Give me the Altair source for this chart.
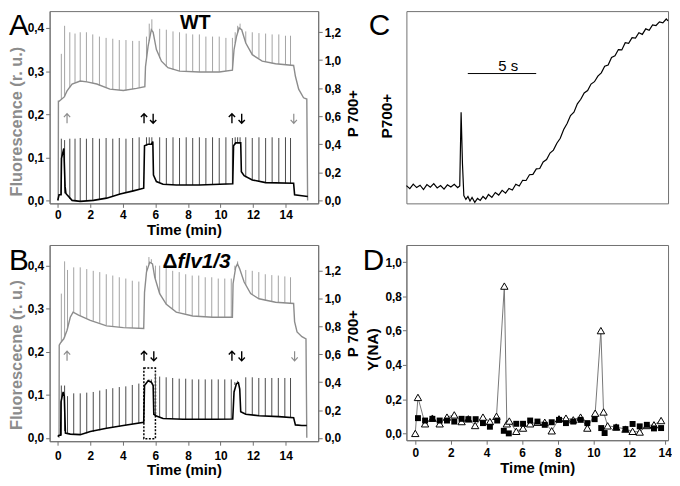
import altair as alt
import pandas as pd

FONT = "Liberation Sans"
GRAY = "#8c8c8c"
SPIKE_GRAY = "#a3a3a3"
SPIKE_BLACK = "#4a4a4a"
FRAME = "#707070"
COMMA = "replace(format(datum.value, '.1f'), '.', ',')"
UP_PATH = "M-0.65,-0.3 L0,-1 L0.65,-0.3 M0,-1 L0,1"
DOWN_PATH = "M-0.65,0.3 L0,1 L0.65,0.3 M0,1 L0,-1"

# ---------------- Panel A (WT) ----------------
A_gray_t = [0.03, 0.04, 0.08, 0.4, 0.57, 0.88, 1.38, 1.79, 2.4, 3.2, 4.03, 4.84, 5.35, 5.39, 5.55,
            5.75, 5.86, 6.06, 6.37, 6.77, 7.48, 8.7, 9.92, 10.73, 10.83, 10.98, 11.14, 11.3, 11.55,
            11.95, 12.56, 13.38, 14.49, 14.6, 14.8, 15.1, 15.3, 15.35]
A_gray_v = [0.0, 0.23, 0.23, 0.24, 0.254, 0.27, 0.277, 0.275, 0.27, 0.258, 0.255, 0.26, 0.264, 0.31, 0.358,
            0.396, 0.39, 0.35, 0.323, 0.308, 0.30, 0.298, 0.298, 0.302, 0.35, 0.38, 0.40, 0.396, 0.365,
            0.338, 0.323, 0.317, 0.313, 0.288, 0.258, 0.238, 0.235, 0.0]
A_black_t = [0.0, 0.08, 0.2, 0.23, 0.37, 0.45, 0.5, 0.57, 0.88, 1.38, 2.19, 3.0, 3.83, 4.64, 5.28,
             5.33, 5.55, 5.75, 5.84, 5.88, 6.06, 6.47, 7.28, 8.7, 10.75, 10.8, 10.93, 11.24, 11.28,
             11.45, 11.95, 12.77, 14.49, 14.55, 15.0, 15.36]
A_black_v = [0.0, 0.04, 0.04, 0.30, 0.37, 0.1, 0.05, 0.04, 0.0, -0.007, 0.0, 0.016, 0.045, 0.068, 0.087,
             0.39, 0.40, 0.40, 0.42, 0.18, 0.134, 0.115, 0.11, 0.11, 0.118, 0.39, 0.41, 0.41, 0.205,
             0.176, 0.146, 0.127, 0.122, 0.04, 0.033, 0.028]
A_spk_t = [0.22, 0.42, 0.74, 1.06, 1.38, 1.76, 2.15, 2.56, 2.97, 3.38,
           3.78, 4.19, 4.6, 5.0, 5.45, 5.62, 5.78, 6.26, 6.67, 7.08,
           7.48, 7.89, 8.29, 8.7, 9.1, 9.51, 9.92, 10.33, 10.73, 10.9,
           11.05, 11.2, 11.55, 11.95, 12.36, 12.77, 13.17, 13.58, 13.99, 14.3]
A_gray_base = [0.235, 0.24, 0.262, 0.273, 0.277, 0.275, 0.272, 0.266, 0.261, 0.257,
               0.256, 0.255, 0.258, 0.262, 0.33, 0.37, 0.395, 0.33, 0.31, 0.303,
               0.30, 0.299, 0.298, 0.298, 0.298, 0.298, 0.298, 0.30, 0.302, 0.365,
               0.39, 0.398, 0.365, 0.338, 0.33, 0.321, 0.318, 0.316, 0.315, 0.314]
A_gray_top = [0.34, 0.405, 0.39, 0.387, 0.39, 0.39, 0.385, 0.38, 0.377, 0.375,
              0.372, 0.372, 0.37, 0.37, 0.38, 0.41, 0.42, 0.398, 0.396, 0.392,
              0.39, 0.387, 0.385, 0.385, 0.38, 0.38, 0.38, 0.377, 0.377, 0.39,
              0.405, 0.41, 0.392, 0.39, 0.388, 0.387, 0.385, 0.385, 0.382, 0.382]
A_black_base = [0.04, 0.05, 0.01, 0.0, -0.005, -0.003, 0.0, 0.008, 0.016, 0.03,
                0.043, 0.055, 0.067, 0.08, 0.39, 0.40, 0.40, 0.125, 0.112, 0.11,
                0.11, 0.11, 0.11, 0.11, 0.11, 0.112, 0.113, 0.115, 0.118, 0.40,
                0.41, 0.41, 0.165, 0.146, 0.135, 0.127, 0.125, 0.123, 0.122, 0.122]
A_black_top = [0.44, 0.43, 0.44, 0.44, 0.445, 0.44, 0.445, 0.44, 0.445, 0.44,
               0.445, 0.44, 0.445, 0.45, 0.45, 0.45, 0.45, 0.45, 0.445, 0.45,
               0.445, 0.45, 0.445, 0.45, 0.445, 0.45, 0.445, 0.45, 0.445, 0.45,
               0.45, 0.45, 0.45, 0.445, 0.45, 0.445, 0.45, 0.445, 0.45, 0.445]
A_arrow_gray_up_t = [0.57]
A_arrow_gray_down_t = [14.5]
A_arrow_black_up_t = [5.3, 10.7]
A_arrow_black_down_t = [5.86, 11.3]

# ---------------- Panel B (Δflv1/3) ----------------
B_gray_t = [0.08, 0.09, 0.16, 0.37, 0.57, 0.77, 0.94, 1.28, 2.0, 3.0, 4.03, 5.28, 5.33, 5.45, 5.65,
            5.82, 5.96, 6.26, 6.67, 7.28, 8.29, 9.51, 10.73, 10.77, 10.93, 11.04, 11.18, 11.45, 11.85,
            12.36, 13.38, 14.49, 14.55, 14.7, 15.0, 15.25, 15.3]
B_gray_v = [0.0, 0.215, 0.22, 0.23, 0.25, 0.28, 0.292, 0.285, 0.273, 0.26, 0.256, 0.254, 0.338, 0.385, 0.408,
            0.404, 0.373, 0.335, 0.31, 0.292, 0.283, 0.28, 0.28, 0.358, 0.396, 0.404, 0.392, 0.362, 0.335,
            0.323, 0.315, 0.312, 0.27, 0.246, 0.235, 0.23, 0.0]
B_black_t = [0.0, 0.08, 0.18, 0.2, 0.33, 0.4, 0.47, 0.77, 1.38, 2.0, 3.0, 4.03, 5.28, 5.33, 5.55,
             5.75, 5.86, 5.9, 6.06, 6.47, 7.7, 9.7, 10.75, 10.83, 10.98, 11.1, 11.18, 11.24, 11.55,
             12.36, 13.58, 14.49, 14.6, 15.0, 15.3]
B_black_v = [0.01, 0.02, 0.02, 0.26, 0.33, 0.3, 0.035, 0.028, 0.024, 0.047, 0.07, 0.09, 0.113, 0.376, 0.41,
             0.40, 0.376, 0.17, 0.158, 0.14, 0.134, 0.134, 0.136, 0.33, 0.39, 0.395, 0.35, 0.188, 0.17,
             0.16, 0.153, 0.146, 0.094, 0.09, 0.09]
B_spk_t = [0.22, 0.42, 0.6, 0.98, 1.38, 1.78, 2.18, 2.58, 2.98, 3.38,
           3.78, 4.18, 4.58, 4.98, 5.45, 5.6, 5.75, 6.0, 6.26, 6.66,
           7.06, 7.46, 7.86, 8.26, 8.66, 9.06, 9.46, 9.86, 10.26, 10.66,
           10.88, 11.05, 11.55, 11.95, 12.35, 12.75, 13.15, 13.55, 13.95, 14.3]
B_gray_base = [0.222, 0.232, 0.252, 0.29, 0.283, 0.277, 0.272, 0.267, 0.262, 0.259,
               0.257, 0.256, 0.255, 0.254, 0.385, 0.403, 0.406, 0.37, 0.335, 0.31,
               0.30, 0.293, 0.288, 0.284, 0.282, 0.281, 0.28, 0.28, 0.28, 0.28,
               0.39, 0.404, 0.355, 0.332, 0.323, 0.319, 0.316, 0.314, 0.313, 0.312]
B_gray_top = [0.335, 0.41, 0.39, 0.396, 0.396, 0.392, 0.388, 0.385, 0.38, 0.377,
              0.373, 0.37, 0.365, 0.363, 0.40, 0.42, 0.415, 0.40, 0.40, 0.396,
              0.388, 0.385, 0.38, 0.377, 0.377, 0.373, 0.373, 0.37, 0.37, 0.37,
              0.40, 0.41, 0.39, 0.388, 0.385, 0.38, 0.378, 0.377, 0.375, 0.373]
B_black_base = [0.02, 0.05, 0.03, 0.026, 0.024, 0.033, 0.045, 0.055, 0.068, 0.075,
                0.082, 0.09, 0.1, 0.108, 0.39, 0.41, 0.40, 0.16, 0.15, 0.14,
                0.136, 0.134, 0.134, 0.134, 0.134, 0.134, 0.134, 0.134, 0.135, 0.136,
                0.38, 0.395, 0.17, 0.165, 0.16, 0.157, 0.155, 0.153, 0.15, 0.147]
B_black_top = [0.376, 0.376, 0.30, 0.32, 0.32, 0.325, 0.33, 0.34, 0.35, 0.357,
               0.365, 0.37, 0.38, 0.39, 0.40, 0.42, 0.42, 0.46, 0.44, 0.435,
               0.43, 0.425, 0.425, 0.42, 0.42, 0.42, 0.42, 0.42, 0.42, 0.42,
               0.40, 0.41, 0.435, 0.435, 0.43, 0.43, 0.43, 0.43, 0.43, 0.43]
B_arrow_gray_up_t = [0.57]
B_arrow_gray_down_t = [14.55]
B_arrow_black_up_t = [5.3, 10.7]
B_arrow_black_down_t = [5.9, 11.3]
B_box_t = [5.29, 6.0]
B_box_v = [-0.002, 0.162]
ARROW_LEVEL = 0.19

# ---------------- Panel C (P700+ trace, seconds) ----------------
C_t = [0.0, 0.25, 0.5, 0.75, 1.0, 1.25, 1.5, 1.75, 2.0, 2.25, 2.5, 2.75, 3.0, 3.25, 3.5, 3.75, 3.9,
       4.0, 4.1, 4.2, 4.35, 4.5, 4.65, 4.8, 5.0, 5.2, 5.4, 5.6, 5.8, 6.0, 6.25, 6.5, 6.75, 7.0,
       7.25, 7.5, 7.75, 8.0, 8.25, 8.5, 8.75, 9.0, 9.25, 9.5, 9.75, 10.0, 10.25, 10.5, 10.75, 11.0,
       11.25, 11.5, 11.75, 12.0, 12.25, 12.5, 12.75, 13.0, 13.25, 13.5, 13.75, 14.0, 14.25, 14.5,
       14.75, 15.0, 15.25, 15.5, 15.75, 16.0, 16.25, 16.5, 16.75, 17.0, 17.25, 17.5, 17.75, 18.0,
       18.25, 18.5, 18.75, 19.0, 19.13]
C_v = [0.09, 0.075, 0.098, 0.08, 0.092, 0.07, 0.095, 0.082, 0.1, 0.078, 0.09, 0.072, 0.094, 0.083, 0.097, 0.08, 0.088,
       0.462, 0.2, 0.04, 0.02, 0.035, 0.012, 0.03, 0.005, 0.025, 0.015, 0.035, 0.022, 0.045, 0.03, 0.055, 0.042, 0.066,
       0.052, 0.076, 0.068, 0.097, 0.088, 0.117, 0.116, 0.145, 0.147, 0.175, 0.177, 0.21, 0.222, 0.255, 0.27, 0.305,
       0.33, 0.375, 0.405, 0.445, 0.462, 0.505, 0.528, 0.56, 0.572, 0.605, 0.617, 0.645, 0.662, 0.695,
       0.702, 0.74, 0.748, 0.78, 0.778, 0.815, 0.812, 0.84, 0.838, 0.865, 0.857, 0.885, 0.878, 0.905,
       0.902, 0.92, 0.915, 0.935, 0.925]
C_bar_t = [4.49, 9.49]

# ---------------- Panel D (Y(NA)) ----------------
D_sq_t = [0.15, 0.55, 0.96, 1.37, 1.78, 2.19, 2.6, 2.98, 3.39, 3.8, 4.19, 4.6, 4.97, 5.25, 5.67, 6.05, 6.45,
          6.86, 7.27, 7.66, 8.07, 8.46, 8.87, 9.28, 9.66, 10.07, 10.44, 10.63, 11.28, 11.8, 12.2, 12.6, 13.0,
          13.4, 13.8]
D_sq_v = [0.089, 0.075, 0.085, 0.075, 0.075, 0.069, 0.085, 0.083, 0.083, 0.06, 0.039, 0.075, 0.015, 0.0, 0.056,
          0.056, 0.075, 0.069, 0.05, 0.065, 0.079, 0.06, 0.069, 0.079, 0.06, 0.083, 0.031, 0.002, 0.035, 0.025,
          0.055, 0.041, 0.05, 0.029, 0.031]
D_tri_t = [0.0, 0.15, 0.55, 0.96, 1.37, 1.78, 2.19, 2.6, 2.98, 3.36, 3.8, 4.19, 4.56, 5.0, 5.14, 5.28, 5.67,
           6.05, 6.45, 6.86, 7.27, 7.66, 8.07, 8.46, 8.87, 9.28, 9.66, 10.1, 10.42, 10.57, 10.8, 11.28, 11.8,
           12.2, 12.6, 13.0, 13.4, 13.8]
D_tri_v = [0.0, 0.21, 0.056, 0.089, 0.056, 0.095, 0.108, 0.069, 0.085, 0.046, 0.095, 0.069, 0.10, 0.86, 0.056,
           0.072, 0.012, 0.031, 0.056, 0.065, 0.065, 0.015, 0.085, 0.089, 0.079, 0.095, 0.031, 0.118, 0.60,
           0.125, 0.044, 0.037, 0.025, 0.012, 0.008, 0.046, 0.05, 0.075]


def letter(ch, px, py):
    return alt.Chart(pd.DataFrame({"s": [ch]})).mark_text(
        font=FONT, fontSize=30, align="left", baseline="alphabetic", color="black"
    ).encode(text="s:N", x=alt.value(px), y=alt.value(py))


def label(txt, px, py, size, style="normal", align="center"):
    return alt.Chart(pd.DataFrame({"s": [txt]})).mark_text(
        font=FONT, fontSize=size, fontWeight="bold", fontStyle=style, align=align,
        baseline="alphabetic", color="black"
    ).encode(text="s:N", x=alt.value(px), y=alt.value(py))


def arrows(ts, path, color, X, width):
    return alt.Chart(pd.DataFrame({"t": ts})).mark_point(
        shape=path, filled=False, stroke=color, strokeWidth=width, size=95, opacity=1
    ).encode(x=X, y=alt.datum(ARROW_LEVEL))


def fluo_panel(let, let_y, names, gray_t, gray_v, black_t, black_v, spk_t, gb, gt, bb, bt,
               gup, gdown, bup, bdown, left_dom, right_dom, height, left_title, lty, rty,
               xlabpad, xty, box=None):
    X = alt.X("t:Q", scale=alt.Scale(domain=[-0.5, 16], nice=False, zero=False),
              axis=alt.Axis(values=list(range(0, 15, 2)), format="d", title="Time (min)",
                            labelPadding=xlabpad, titleY=xty, titleBaseline="alphabetic"))
    yl_axis = alt.Axis(values=[0, 0.1, 0.2, 0.3, 0.4], labelExpr=COMMA, title=left_title,
                       titleColor=GRAY, titleX=-33, titleY=lty, titleAngle=270,
                       titleAlign="center", titleBaseline="middle", titleFontSize=16.5)
    yl_scale = alt.Scale(domain=left_dom, nice=False, zero=False)
    yr_axis = alt.Axis(orient="right", values=[0, 0.2, 0.4, 0.6, 0.8, 1.0, 1.2], labelExpr=COMMA,
                       title="P 700+", titleX=35, titleY=rty, titleAngle=270,
                       titleAlign="center", titleBaseline="middle", titleFontSize=15)
    yr_scale = alt.Scale(domain=right_dom, nice=False, zero=False)

    left_layers = [
        alt.Chart(pd.DataFrame({"t": spk_t, "b": gb, "tp": gt})).mark_rule(
            color=SPIKE_GRAY, strokeWidth=1
        ).encode(x=X, y=alt.Y("b:Q", scale=yl_scale, axis=yl_axis), y2="tp:Q"),
        alt.Chart(pd.DataFrame({"t": gray_t, "v": gray_v})).mark_line(
            color=GRAY, strokeWidth=1.4
        ).encode(x=X, y=alt.Y("v:Q", scale=yl_scale, axis=yl_axis), order="t:Q"),
        arrows(gup, UP_PATH, GRAY, X, 1.2),
        arrows(gdown, DOWN_PATH, GRAY, X, 1.2),
        arrows(bup, UP_PATH, "black", X, 1.4),
        arrows(bdown, DOWN_PATH, "black", X, 1.4),
    ]
    if box is not None:
        left_layers.append(
            alt.Chart(pd.DataFrame({"t": [box[0][0]], "t2": [box[0][1]],
                                    "v": [box[1][0]], "v2": [box[1][1]]})).mark_rect(
                fillOpacity=0, stroke="black", strokeDash=[2, 1.5], strokeWidth=1.5
            ).encode(x=X, x2="t2:Q", y=alt.Y("v:Q", scale=yl_scale, axis=yl_axis), y2="v2:Q")
        )
    for nm in names:
        left_layers.append(label(*nm))
    left_layers.append(letter(let, -41, let_y))

    right_layers = [
        alt.Chart(pd.DataFrame({"t": spk_t, "b": bb, "tp": bt})).mark_rule(
            color=SPIKE_BLACK, strokeWidth=1
        ).encode(x=X, y=alt.Y("b:Q", scale=yr_scale, axis=yr_axis), y2="tp:Q"),
        alt.Chart(pd.DataFrame({"t": black_t, "v": black_v})).mark_line(
            color="black", strokeWidth=1.6
        ).encode(x=X, y=alt.Y("v:Q", scale=yr_scale, axis=yr_axis), order="t:Q"),
    ]
    return alt.layer(alt.layer(*left_layers), alt.layer(*right_layers)).resolve_scale(
        y="independent").properties(width=271, height=height)


panel_A = fluo_panel("A", 24, [("WT", 147, 18, 20)],
                     A_gray_t, A_gray_v, A_black_t, A_black_v, A_spk_t, A_gray_base, A_gray_top,
                     A_black_base, A_black_top, A_arrow_gray_up_t, A_arrow_gray_down_t,
                     A_arrow_black_up_t, A_arrow_black_down_t, [-0.0069, 0.4391], [-0.0212, 1.3498], 194,
                     "Fluorescence (r. u.)", 111, 103, 2, 31)

panel_B = fluo_panel("B", 25, [("Δ", 114, 23, 21, "normal", "left"),
                               ("flv1/3", 129, 23, 21, "italic", "left")],
                     B_gray_t, B_gray_v, B_black_t, B_black_v, B_spk_t, B_gray_base, B_gray_top,
                     B_black_base, B_black_top, B_arrow_gray_up_t, B_arrow_gray_down_t,
                     B_arrow_black_up_t, B_arrow_black_down_t, [-0.008, 0.448], [-0.023, 1.383], 198,
                     "Fluorescecne (r. u.)", 110.5, 89, 5, 34, box=(B_box_t, B_box_v))

# ---- Panel C ----
XC = alt.X("t:Q", scale=alt.Scale(domain=[0, 19.13], nice=False, zero=False), axis=None)
YC = alt.Y("v:Q", scale=alt.Scale(domain=[0, 0.975], nice=False, zero=False),
           axis=alt.Axis(title="P700+", labels=False, ticks=False, domain=False,
                         titleX=-19.75, titleY=105.5, titleAngle=270, titleAlign="center",
                         titleBaseline="middle", titleFontSize=15.5))
panel_C = alt.layer(
    alt.Chart(pd.DataFrame({"t": C_t, "v": C_v})).mark_line(color="black", strokeWidth=1.2).encode(
        x=XC, y=YC, order="t:Q"),
    alt.Chart(pd.DataFrame({"t": [C_bar_t[0]], "t2": [C_bar_t[1]]})).mark_rule(
        color="black", strokeWidth=1).encode(x=XC, x2="t2:Q", y=alt.value(63)),
    alt.Chart(pd.DataFrame({"s": ["5 s"]})).mark_text(
        font=FONT, fontSize=15, baseline="alphabetic", color="black").encode(
        text="s:N", x=alt.value(102.75), y=alt.value(60)),
    letter("C", -38, 24),
).properties(width=264, height=194)

# ---- Panel D ----
XD = alt.X("t:Q", scale=alt.Scale(domain=[-0.498, 14.19], nice=False, zero=False),
           axis=alt.Axis(values=list(range(0, 15, 2)), format="d", title="Time (min)",
                         labelPadding=3, titleY=32.5, titleBaseline="alphabetic"))
YD_scale = alt.Scale(domain=[-0.04, 1.1], nice=False, zero=False)
YD_axis = alt.Axis(values=[0, 0.2, 0.4, 0.6, 0.8, 1.0], labelExpr=COMMA, title="Y(NA)",
                   labelPadding=1, titleX=-34, titleY=105, titleAngle=270, titleAlign="center",
                   titleBaseline="middle", titleFontSize=15.5)
panel_D = alt.layer(
    alt.Chart(pd.DataFrame({"t": D_tri_t, "v": D_tri_v})).mark_line(
        color="#777777", strokeWidth=1).encode(x=XD, y=alt.Y("v:Q", scale=YD_scale, axis=YD_axis),
                                              order="t:Q"),
    alt.Chart(pd.DataFrame({"t": D_tri_t, "v": D_tri_v})).mark_point(
        shape="triangle-up", filled=True, fill="white", stroke="black", strokeWidth=1,
        size=55, opacity=1).encode(x=XD, y=alt.Y("v:Q", scale=YD_scale, axis=YD_axis)),
    alt.Chart(pd.DataFrame({"t": D_sq_t, "v": D_sq_v})).mark_point(
        shape="square", filled=True, color="black", size=36, opacity=1).encode(
        x=XD, y=alt.Y("v:Q", scale=YD_scale, axis=YD_axis)),
    letter("D", -44, 25),
).properties(width=264, height=197)

chart = alt.concat(panel_A, panel_C, panel_B, panel_D, columns=2,
                   spacing={"row": 6, "column": 0}).properties(padding=0).configure_view(
    stroke=FRAME, strokeWidth=1
).configure_axis(
    labelFont=FONT, labelFontWeight="bold", labelFontSize=12, labelColor="black",
    titleFont=FONT, titleFontWeight="bold", titleFontSize=15, titleColor="black",
    domainColor=FRAME, tickColor=FRAME, tickSize=4, labelPadding=2, grid=False
).configure_text(font=FONT)

chart.save("out.html", embed_options={"renderer": "svg", "actions": False})
